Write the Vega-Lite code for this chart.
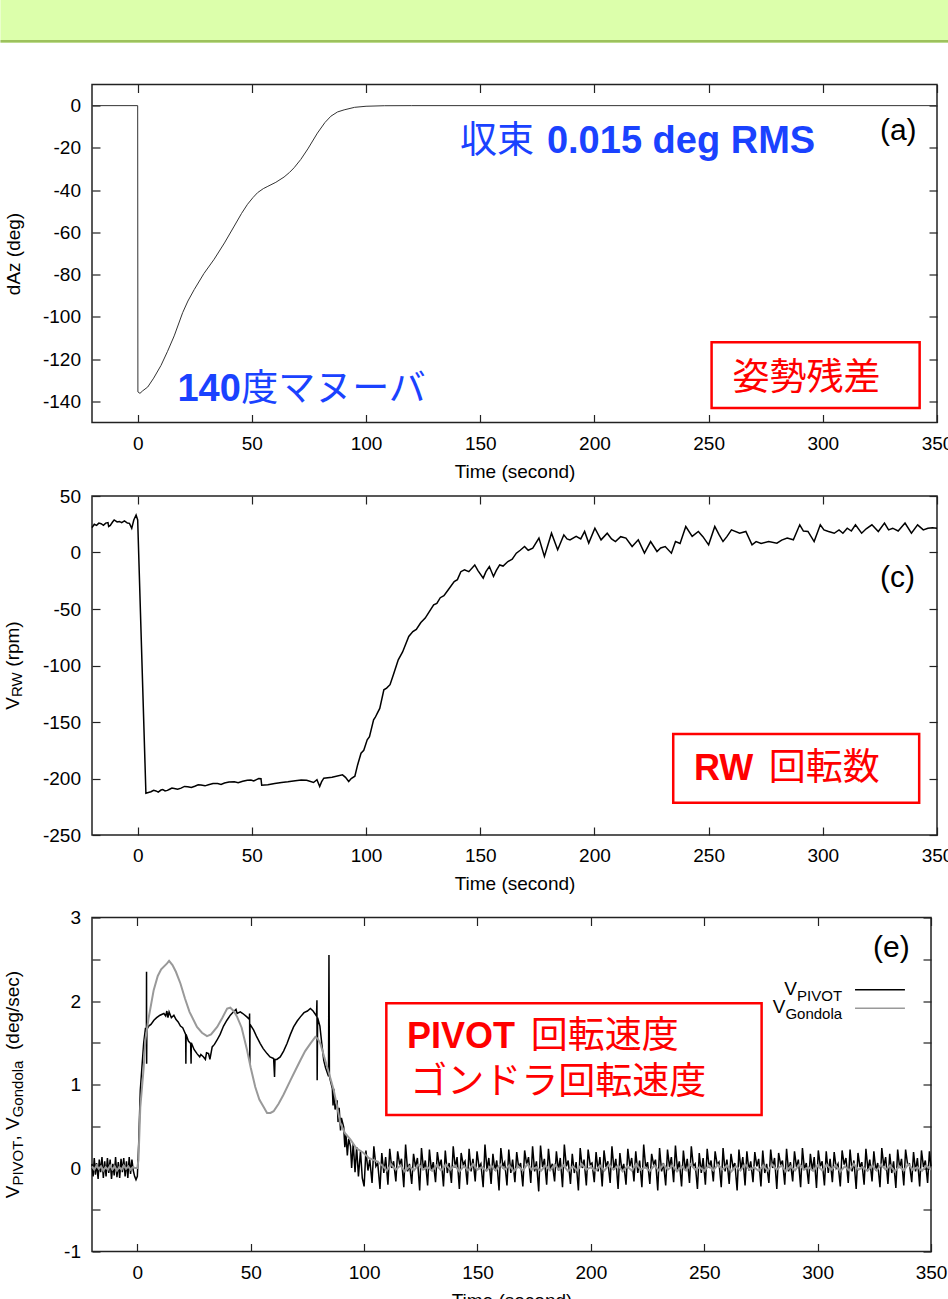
{
"$schema": "https://vega.github.io/schema/vega-lite/v6.json",
"padding": 0,
"background": "white",
"config": {
  "view": {"stroke": null},
  "text": {"font": "Liberation Sans"},
  "axis": {"grid": false, "domain": false, "tickColor": "#222", "tickWidth": 1.2, "tickSize": -8, "labelFont": "Liberation Sans", "labelFontSize": 19, "labelColor": "#000", "titleFont": "Liberation Sans", "titleFontSize": 19, "titleFontWeight": "normal", "titleColor": "#000", "labelFlush": false, "labelPadding": 19.5}
},
"datasets": {
"az": [{"t":-20,"v":0},{"t":0,"v":0},{"t":0.1,"v":-135.5},{"t":1,"v":-136.2},{"t":2.2,"v":-135},{"t":4.4,"v":-133.2},{"t":7,"v":-129},{"t":10.2,"v":-123},{"t":13,"v":-116.5},{"t":16,"v":-109},{"t":19.7,"v":-98},{"t":22,"v":-92.5},{"t":24.8,"v":-87},{"t":29,"v":-79.5},{"t":33.5,"v":-72.7},{"t":38,"v":-65},{"t":42.3,"v":-57},{"t":45.5,"v":-51},{"t":48.1,"v":-46.7},{"t":50.5,"v":-43.5},{"t":52.5,"v":-41.2},{"t":55,"v":-39.3},{"t":57,"v":-38.2},{"t":60.5,"v":-36.3},{"t":64.1,"v":-33.8},{"t":66.5,"v":-31.6},{"t":68.5,"v":-29.4},{"t":71.4,"v":-25.5},{"t":74.5,"v":-20.5},{"t":78.7,"v":-13},{"t":82,"v":-8},{"t":84.6,"v":-5},{"t":87.5,"v":-3},{"t":90.4,"v":-2},{"t":95,"v":-0.8},{"t":100,"v":-0.3},{"t":108,"v":-0.05},{"t":120,"v":0},{"t":350,"v":0}],
"rw": [{"t":-20,"v":22},{"t":-19,"v":25},{"t":-18,"v":24},{"t":-17,"v":26},{"t":-16,"v":25.5},{"t":-15,"v":24},{"t":-14,"v":26},{"t":-13,"v":26.5},{"t":-12.7,"v":23},{"t":-12,"v":24},{"t":-11,"v":27},{"t":-10.3,"v":28.8},{"t":-9,"v":27},{"t":-8,"v":27.5},{"t":-7,"v":26.5},{"t":-5.8,"v":28},{"t":-4.5,"v":26},{"t":-3.6,"v":25.8},{"t":-2.6,"v":21.4},{"t":-1.7,"v":28.8},{"t":-0.7,"v":33.2},{"t":0,"v":28.8},{"t":3.6,"v":-213},{"t":5.8,"v":-211.7},{"t":7,"v":-210.5},{"t":8,"v":-211},{"t":9,"v":-212},{"t":10.2,"v":-210.2},{"t":11,"v":-209.8},{"t":12,"v":-211},{"t":13,"v":-210.5},{"t":14,"v":-209.5},{"t":15,"v":-208.5},{"t":16,"v":-208.8},{"t":17.5,"v":-209.5},{"t":19,"v":-208.5},{"t":20.5,"v":-207},{"t":21.9,"v":-207.3},{"t":23.5,"v":-208},{"t":25,"v":-206.8},{"t":26.5,"v":-205.5},{"t":27.7,"v":-205.8},{"t":29.5,"v":-206.5},{"t":31,"v":-205.6},{"t":33,"v":-204.5},{"t":35,"v":-204.4},{"t":36.5,"v":-205.2},{"t":38,"v":-204},{"t":40,"v":-203.2},{"t":42.3,"v":-202.9},{"t":44,"v":-203.8},{"t":46,"v":-202.5},{"t":48,"v":-201.5},{"t":49.6,"v":-201.3},{"t":50.8,"v":-202.2},{"t":52,"v":-201},{"t":53,"v":-200},{"t":54,"v":-200.2},{"t":54.3,"v":-206},{"t":57,"v":-205.5},{"t":60,"v":-204.4},{"t":63,"v":-203.5},{"t":65.8,"v":-202.9},{"t":69,"v":-202},{"t":71.6,"v":-201.3},{"t":74,"v":-201.5},{"t":77,"v":-203.5},{"t":78.5,"v":-201},{"t":79.7,"v":-207},{"t":80.5,"v":-203},{"t":81.5,"v":-199.7},{"t":85.1,"v":-198.8},{"t":89.7,"v":-196.8},{"t":91,"v":-199},{"t":92.4,"v":-202.7},{"t":93.5,"v":-200},{"t":95.1,"v":-198},{"t":96.3,"v":-188},{"t":97.8,"v":-177.6},{"t":99,"v":-175},{"t":100.5,"v":-165.8},{"t":101.5,"v":-163},{"t":103.3,"v":-148},{"t":104,"v":-146},{"t":105,"v":-142},{"t":106,"v":-138},{"t":107.8,"v":-121.5},{"t":109,"v":-120},{"t":110.5,"v":-117},{"t":112,"v":-108},{"t":114.1,"v":-95},{"t":116,"v":-88},{"t":118.7,"v":-74.3},{"t":120.5,"v":-70},{"t":122,"v":-68},{"t":124,"v":-62},{"t":125.9,"v":-58},{"t":127.5,"v":-53},{"t":129.6,"v":-46.3},{"t":131,"v":-45},{"t":132.5,"v":-40},{"t":134.1,"v":-38.3},{"t":136,"v":-33},{"t":138.6,"v":-25.7},{"t":140,"v":-24},{"t":141.5,"v":-17},{"t":143.1,"v":-15.3},{"t":145,"v":-17},{"t":147.6,"v":-11},{"t":149,"v":-16},{"t":151.3,"v":-22.7},{"t":152.5,"v":-17},{"t":154,"v":-12.4},{"t":155.8,"v":-21.2},{"t":157,"v":-16},{"t":158.5,"v":-11},{"t":160,"v":-12},{"t":162.1,"v":-8},{"t":164,"v":-6},{"t":165.8,"v":-0.6},{"t":167.5,"v":2},{"t":169.4,"v":5.3},{"t":171,"v":2},{"t":173,"v":3.8},{"t":175.7,"v":12.7},{"t":178.1,"v":-3.5},{"t":181.2,"v":17.1},{"t":183.9,"v":2.4},{"t":186.6,"v":15.6},{"t":188,"v":12},{"t":189.3,"v":11.2},{"t":192,"v":14.2},{"t":194,"v":12},{"t":195.7,"v":18.6},{"t":197.5,"v":8.3},{"t":200.2,"v":21.5},{"t":202.9,"v":11.2},{"t":205.6,"v":17.1},{"t":207.5,"v":12},{"t":209.2,"v":9.7},{"t":211.5,"v":14},{"t":213.8,"v":12.7},{"t":216.5,"v":5.3},{"t":219.2,"v":11.2},{"t":221.9,"v":-0.6},{"t":224.6,"v":9.7},{"t":227.4,"v":0.9},{"t":229,"v":4},{"t":231,"v":5.3},{"t":233.7,"v":-0.6},{"t":235.5,"v":9.7},{"t":237.5,"v":8},{"t":240,"v":23},{"t":242.8,"v":14.2},{"t":245.5,"v":18.6},{"t":247.5,"v":14},{"t":250,"v":6.8},{"t":252.7,"v":23},{"t":254.5,"v":16},{"t":256.3,"v":9.7},{"t":258,"v":14},{"t":260,"v":20},{"t":263.6,"v":17},{"t":266.3,"v":18.6},{"t":269,"v":6.8},{"t":270.8,"v":9.7},{"t":273,"v":8},{"t":276.3,"v":9.7},{"t":279.9,"v":8.3},{"t":282,"v":11},{"t":284.4,"v":12.7},{"t":287.1,"v":11.2},{"t":289.9,"v":24.5},{"t":291.5,"v":19},{"t":293.5,"v":18.6},{"t":296.2,"v":9.7},{"t":298.9,"v":24.5},{"t":300.5,"v":20},{"t":302.5,"v":18.6},{"t":305,"v":17},{"t":307.1,"v":20},{"t":308.8,"v":17},{"t":310.7,"v":21.5},{"t":312.5,"v":19},{"t":314.3,"v":24.5},{"t":317,"v":17.1},{"t":319,"v":21},{"t":321.5,"v":24.5},{"t":324.3,"v":18.6},{"t":327,"v":26},{"t":328.8,"v":20},{"t":330.6,"v":21.5},{"t":333,"v":19},{"t":336,"v":26},{"t":338.8,"v":17.1},{"t":341.5,"v":24.5},{"t":344,"v":20},{"t":346,"v":21.5},{"t":348,"v":22},{"t":350,"v":21.5}],
"piv": [{"t":-20,"v":0.05},{"t":-19.5,"v":-0.1},{"t":-19,"v":0.12},{"t":-18.5,"v":-0.08},{"t":-18,"v":0.06},{"t":-17.3,"v":-0.13},{"t":-16.8,"v":0.1},{"t":-16.2,"v":-0.05},{"t":-15.6,"v":0.13},{"t":-15,"v":-0.12},{"t":-14.4,"v":0.08},{"t":-13.8,"v":-0.1},{"t":-13.2,"v":0.12},{"t":-12.6,"v":-0.06},{"t":-12,"v":0.1},{"t":-11.4,"v":-0.13},{"t":-10.8,"v":0.05},{"t":-10.2,"v":-0.09},{"t":-9.6,"v":0.13},{"t":-9,"v":-0.11},{"t":-8.4,"v":0.07},{"t":-7.8,"v":-0.12},{"t":-7.2,"v":0.11},{"t":-6.6,"v":-0.05},{"t":-6,"v":0.12},{"t":-5.4,"v":-0.1},{"t":-4.8,"v":0.08},{"t":-4.2,"v":-0.12},{"t":-3.6,"v":0.13},{"t":-3,"v":-0.07},{"t":-2.4,"v":0.1},{"t":-1.8,"v":-0.03},{"t":-1.2,"v":-0.1},{"t":-0.6,"v":-0.14},{"t":0,"v":-0.1},{"t":0.6,"v":0.3},{"t":1.3,"v":0.93},{"t":2,"v":1.2},{"t":2.8,"v":1.5},{"t":3.6,"v":1.68},{"t":4,"v":1.65},{"t":4.05,"v":2.35},{"t":4.1,"v":1.25},{"t":4.2,"v":1.66},{"t":5,"v":1.7},{"t":6,"v":1.72},{"t":7.3,"v":1.77},{"t":8.5,"v":1.8},{"t":10,"v":1.83},{"t":11.7,"v":1.85},{"t":12.5,"v":1.82},{"t":13,"v":1.88},{"t":13.5,"v":1.8},{"t":14,"v":1.87},{"t":15,"v":1.8},{"t":16.1,"v":1.83},{"t":17,"v":1.78},{"t":18,"v":1.75},{"t":19,"v":1.7},{"t":20,"v":1.68},{"t":20.5,"v":1.65},{"t":21.3,"v":1.6},{"t":21.4,"v":1.25},{"t":21.5,"v":1.6},{"t":22.5,"v":1.52},{"t":23.5,"v":1.49},{"t":23.7,"v":1.25},{"t":23.8,"v":1.5},{"t":25,"v":1.42},{"t":26.3,"v":1.37},{"t":27.5,"v":1.33},{"t":28,"v":1.36},{"t":29.2,"v":1.33},{"t":30,"v":1.3},{"t":30.5,"v":1.38},{"t":31.4,"v":1.37},{"t":32,"v":1.3},{"t":33,"v":1.45},{"t":34,"v":1.48},{"t":35.1,"v":1.53},{"t":36.5,"v":1.6},{"t":38,"v":1.7},{"t":39.5,"v":1.77},{"t":41,"v":1.83},{"t":42.4,"v":1.87},{"t":43.5,"v":1.9},{"t":44,"v":1.85},{"t":45.4,"v":1.87},{"t":46.5,"v":1.85},{"t":48.3,"v":1.81},{"t":49.4,"v":1.78},{"t":49.5,"v":1.85},{"t":49.6,"v":1.25},{"t":49.7,"v":1.72},{"t":51.3,"v":1.65},{"t":52.5,"v":1.58},{"t":54.2,"v":1.49},{"t":55.5,"v":1.43},{"t":57.2,"v":1.37},{"t":58.5,"v":1.33},{"t":60.1,"v":1.31},{"t":60.5,"v":1.09},{"t":60.7,"v":1.3},{"t":61.5,"v":1.3},{"t":63,"v":1.33},{"t":64.5,"v":1.4},{"t":66,"v":1.49},{"t":67.5,"v":1.6},{"t":68.9,"v":1.69},{"t":70.5,"v":1.76},{"t":71.9,"v":1.81},{"t":73.5,"v":1.86},{"t":75,"v":1.88},{"t":76.3,"v":1.91},{"t":77.5,"v":1.88},{"t":78.5,"v":1.84},{"t":79,"v":1.82},{"t":79.2,"v":2.01},{"t":79.3,"v":1.05},{"t":79.5,"v":1.8},{"t":80.5,"v":1.7},{"t":81.3,"v":1.5},{"t":82.2,"v":1.29},{"t":83,"v":1.2},{"t":84.3,"v":1.1},{"t":84.5,"v":2.55},{"t":84.7,"v":1.1},{"t":85.1,"v":1.05},{"t":86,"v":0.95},{"t":86.3,"v":0.75},{"t":86.6,"v":0.95},{"t":87.2,"v":0.7},{"t":88.1,"v":0.81},{"t":88.5,"v":0.55},{"t":89,"v":0.72},{"t":89.6,"v":0.45},{"t":90,"v":0.6},{"t":91,"v":0.49},{"t":91.5,"v":0.25},{"t":92,"v":0.4},{"t":92.6,"v":0.15},{"t":93.2,"v":0.35},{"t":94,"v":0.26},{"t":94.5,"v":0},{"t":95.2,"v":0.3},{"t":96,"v":-0.05},{"t":96.7,"v":0.25},{"t":97.5,"v":-0.1},{"t":98.4,"v":0.2},{"t":99.2,"v":-0.12},
{"t":100,"v":-0.22},{"t":100.8,"v":0.21},{"t":101.7,"v":-0.03},{"t":102.5,"v":0.1},
{"t":103.5,"v":-0.18},{"t":104.3,"v":0.26},{"t":105.2,"v":0.02},{"t":106,"v":0.06},
{"t":107,"v":-0.25},{"t":107.8,"v":0.18},{"t":108.7,"v":-0.06},{"t":109.5,"v":0.13},
{"t":110.5,"v":-0.2},{"t":111.3,"v":0.23},{"t":112.2,"v":0},{"t":113,"v":0.08},
{"t":114,"v":-0.16},{"t":114.8,"v":0.2},{"t":115.7,"v":0.04},{"t":116.5,"v":0.11},
{"t":117.5,"v":-0.23},{"t":118.3,"v":0.28},{"t":119.2,"v":-0.04},{"t":120,"v":0.05},
{"t":121,"v":-0.19},{"t":121.8,"v":0.17},{"t":122.7,"v":0.01},{"t":123.5,"v":0.12},
{"t":124.5,"v":-0.27},{"t":125.3,"v":0.24},{"t":126.2,"v":-0.02},{"t":127,"v":0.09},
{"t":128,"v":-0.21},{"t":128.8,"v":0.22},{"t":129.7,"v":-0.03},{"t":130.5,"v":0.07},
{"t":131.5,"v":-0.17},{"t":132.3,"v":0.19},{"t":133.2,"v":0.02},{"t":134,"v":0.1},
{"t":135,"v":-0.22},{"t":135.8,"v":0.21},{"t":136.7,"v":-0.06},{"t":137.5,"v":0.06},
{"t":138.5,"v":-0.18},{"t":139.3,"v":0.26},{"t":140.2,"v":0},{"t":141,"v":0.13},
{"t":142,"v":-0.25},{"t":142.8,"v":0.18},{"t":143.7,"v":0.04},{"t":144.5,"v":0.08},
{"t":145.5,"v":-0.2},{"t":146.3,"v":0.23},{"t":147.2,"v":-0.04},{"t":148,"v":0.11},
{"t":149,"v":-0.16},{"t":149.8,"v":0.2},{"t":150.7,"v":0.01},{"t":151.5,"v":0.05},
{"t":152.5,"v":-0.23},{"t":153.3,"v":0.28},{"t":154.2,"v":-0.02},{"t":155,"v":0.12},
{"t":156,"v":-0.19},{"t":156.8,"v":0.17},{"t":157.7,"v":-0.03},{"t":158.5,"v":0.09},
{"t":159.5,"v":-0.27},{"t":160.3,"v":0.24},{"t":161.2,"v":0.02},{"t":162,"v":0.07},
{"t":163,"v":-0.21},{"t":163.8,"v":0.22},{"t":164.7,"v":-0.06},{"t":165.5,"v":0.1},
{"t":166.5,"v":-0.17},{"t":167.3,"v":0.19},{"t":168.2,"v":0},{"t":169,"v":0.06},
{"t":170,"v":-0.22},{"t":170.8,"v":0.21},{"t":171.7,"v":0.04},{"t":172.5,"v":0.13},
{"t":173.5,"v":-0.18},{"t":174.3,"v":0.26},{"t":175.2,"v":-0.04},{"t":176,"v":0.08},
{"t":177,"v":-0.28},{"t":177.8,"v":0.27},{"t":178.7,"v":0.01},{"t":179.5,"v":0.11},
{"t":180.5,"v":-0.2},{"t":181.3,"v":0.23},{"t":182.2,"v":-0.02},{"t":183,"v":0.05},
{"t":184,"v":-0.16},{"t":184.8,"v":0.2},{"t":185.7,"v":-0.03},{"t":186.5,"v":0.12},
{"t":187.5,"v":-0.23},{"t":188.3,"v":0.28},{"t":189.2,"v":0.02},{"t":190,"v":0.09},
{"t":191,"v":-0.19},{"t":191.8,"v":0.17},{"t":192.7,"v":-0.06},{"t":193.5,"v":0.07},
{"t":194.5,"v":-0.27},{"t":195.3,"v":0.24},{"t":196.2,"v":0},{"t":197,"v":0.1},
{"t":198,"v":-0.21},{"t":198.8,"v":0.22},{"t":199.7,"v":0.04},{"t":200.5,"v":0.06},
{"t":201.5,"v":-0.17},{"t":202.3,"v":0.19},{"t":203.2,"v":-0.04},{"t":204,"v":0.13},
{"t":205,"v":-0.22},{"t":205.8,"v":0.21},{"t":206.7,"v":0.01},{"t":207.5,"v":0.08},
{"t":208.5,"v":-0.18},{"t":209.3,"v":0.26},{"t":210.2,"v":-0.02},{"t":211,"v":0.11},
{"t":212,"v":-0.25},{"t":212.8,"v":0.18},{"t":213.7,"v":-0.03},{"t":214.5,"v":0.05},
{"t":215.5,"v":-0.2},{"t":216.3,"v":0.23},{"t":217.2,"v":0.02},{"t":218,"v":0.12},
{"t":219,"v":-0.16},{"t":219.8,"v":0.2},{"t":220.7,"v":-0.06},{"t":221.5,"v":0.09},
{"t":222.5,"v":-0.23},{"t":223.3,"v":0.28},{"t":224.2,"v":0},{"t":225,"v":0.07},
{"t":226,"v":-0.19},{"t":226.8,"v":0.17},{"t":227.7,"v":0.04},{"t":228.5,"v":0.1},
{"t":229.5,"v":-0.27},{"t":230.3,"v":0.24},{"t":231.2,"v":-0.04},{"t":232,"v":0.06},
{"t":233,"v":-0.21},{"t":233.8,"v":0.22},{"t":234.7,"v":0.01},{"t":235.5,"v":0.13},
{"t":236.5,"v":-0.17},{"t":237.3,"v":0.27},{"t":238.2,"v":-0.02},{"t":239,"v":0.08},
{"t":240,"v":-0.22},{"t":240.8,"v":0.21},{"t":241.7,"v":-0.03},{"t":242.5,"v":0.11},
{"t":243.5,"v":-0.18},{"t":244.3,"v":0.26},{"t":245.2,"v":0.02},{"t":246,"v":0.05},
{"t":247,"v":-0.25},{"t":247.8,"v":0.18},{"t":248.7,"v":-0.06},{"t":249.5,"v":0.12},
{"t":250.5,"v":-0.2},{"t":251.3,"v":0.23},{"t":252.2,"v":0},{"t":253,"v":0.09},
{"t":254,"v":-0.16},{"t":254.8,"v":0.2},{"t":255.7,"v":0.04},{"t":256.5,"v":0.07},
{"t":257.5,"v":-0.23},{"t":258.3,"v":0.24},{"t":259.2,"v":-0.04},{"t":260,"v":0.1},
{"t":261,"v":-0.19},{"t":261.8,"v":0.17},{"t":262.7,"v":0.01},{"t":263.5,"v":0.06},
{"t":264.5,"v":-0.27},{"t":265.3,"v":0.22},{"t":266.2,"v":-0.02},{"t":267,"v":0.13},
{"t":268,"v":-0.21},{"t":268.8,"v":0.2},{"t":269.7,"v":-0.03},{"t":270.5,"v":0.08},
{"t":271.5,"v":-0.17},{"t":272.3,"v":0.19},{"t":273.2,"v":0.02},{"t":274,"v":0.11},
{"t":275,"v":-0.22},{"t":275.8,"v":0.21},{"t":276.7,"v":-0.06},{"t":277.5,"v":0.05},
{"t":278.5,"v":-0.18},{"t":279.3,"v":0.22},{"t":280.2,"v":0},{"t":281,"v":0.12},
{"t":282,"v":-0.25},{"t":282.8,"v":0.18},{"t":283.7,"v":0.04},{"t":284.5,"v":0.09},
{"t":285.5,"v":-0.2},{"t":286.3,"v":0.23},{"t":287.2,"v":-0.04},{"t":288,"v":0.07},
{"t":289,"v":-0.16},{"t":289.8,"v":0.2},{"t":290.7,"v":0.01},{"t":291.5,"v":0.1},
{"t":292.5,"v":-0.23},{"t":293.3,"v":0.24},{"t":294.2,"v":-0.02},{"t":295,"v":0.06},
{"t":296,"v":-0.19},{"t":296.8,"v":0.17},{"t":297.7,"v":-0.03},{"t":298.5,"v":0.13},
{"t":299.5,"v":-0.24},{"t":300.3,"v":0.21},{"t":301.2,"v":0.02},{"t":302,"v":0.08},
{"t":303,"v":-0.21},{"t":303.8,"v":0.2},{"t":304.7,"v":-0.06},{"t":305.5,"v":0.11},
{"t":306.5,"v":-0.17},{"t":307.3,"v":0.19},{"t":308.2,"v":0},{"t":309,"v":0.05},
{"t":310,"v":-0.22},{"t":310.8,"v":0.21},{"t":311.7,"v":0.04},{"t":312.5,"v":0.12},
{"t":313.5,"v":-0.18},{"t":314.3,"v":0.22},{"t":315.2,"v":-0.04},{"t":316,"v":0.09},
{"t":317,"v":-0.25},{"t":317.8,"v":0.18},{"t":318.7,"v":0.01},{"t":319.5,"v":0.07},
{"t":320.5,"v":-0.2},{"t":321.3,"v":0.23},{"t":322.2,"v":-0.02},{"t":323,"v":0.1},
{"t":324,"v":-0.16},{"t":324.8,"v":0.2},{"t":325.7,"v":-0.03},{"t":326.5,"v":0.06},
{"t":327.5,"v":-0.23},{"t":328.3,"v":0.24},{"t":329.2,"v":0.02},{"t":330,"v":0.13},
{"t":331,"v":-0.19},{"t":331.8,"v":0.17},{"t":332.7,"v":-0.06},{"t":333.5,"v":0.08},
{"t":334.5,"v":-0.24},{"t":335.3,"v":0.22},{"t":336.2,"v":0},{"t":337,"v":0.11},
{"t":338,"v":-0.21},{"t":338.8,"v":0.22},{"t":339.7,"v":0.04},{"t":340.5,"v":0.05},
{"t":341.5,"v":-0.17},{"t":342.3,"v":0.19},{"t":343.2,"v":-0.04},{"t":344,"v":0.12},
{"t":345,"v":-0.22},{"t":345.8,"v":0.21},{"t":346.7,"v":0.01},{"t":347.5,"v":0.09},
{"t":348.5,"v":-0.18},{"t":349.3,"v":0.2},{"t":350,"v":0.02}],
"gon": [{"t":-20,"v":0.02},{"t":-19,"v":-0.02},{"t":-18,"v":0.03},{"t":-17,"v":-0.01},{"t":-16,"v":0.02},{"t":-15,"v":-0.03},{"t":-14,"v":0.01},{"t":-13,"v":-0.02},{"t":-12,"v":0.03},{"t":-11,"v":-0.02},{"t":-10,"v":0.02},{"t":-9,"v":-0.03},{"t":-8,"v":0.01},{"t":-7,"v":-0.02},{"t":-6,"v":0.03},{"t":-5,"v":-0.01},{"t":-4,"v":0.02},{"t":-3,"v":-0.02},{"t":-2,"v":0.01},{"t":-1,"v":0},{"t":0,"v":0},{"t":0.5,"v":0.1},{"t":1.3,"v":0.73},{"t":2.8,"v":1.2},{"t":3.5,"v":1.53},{"t":5,"v":1.8},{"t":7.2,"v":2.13},{"t":9,"v":2.3},{"t":10.5,"v":2.38},{"t":13.1,"v":2.45},{"t":14,"v":2.48},{"t":15.5,"v":2.43},{"t":17,"v":2.35},{"t":19,"v":2.21},{"t":21,"v":2.03},{"t":23,"v":1.87},{"t":26.3,"v":1.69},{"t":28.5,"v":1.62},{"t":30.7,"v":1.58},{"t":32.5,"v":1.6},{"t":35.2,"v":1.69},{"t":37.5,"v":1.8},{"t":39.6,"v":1.91},{"t":41,"v":1.92},{"t":42.5,"v":1.88},{"t":44,"v":1.81},{"t":46,"v":1.68},{"t":48.4,"v":1.41},{"t":50,"v":1.2},{"t":52,"v":0.97},{"t":53.8,"v":0.82},{"t":55.7,"v":0.73},{"t":57.2,"v":0.66},{"t":58.7,"v":0.66},{"t":60.1,"v":0.68},{"t":62.3,"v":0.77},{"t":64.5,"v":0.88},{"t":67.5,"v":1.05},{"t":69.7,"v":1.17},{"t":71.9,"v":1.29},{"t":74,"v":1.4},{"t":76.3,"v":1.49},{"t":78.5,"v":1.57},{"t":79.5,"v":1.55},{"t":80.7,"v":1.49},{"t":82.2,"v":1.35},{"t":83.7,"v":1.21},{"t":85.2,"v":1.07},{"t":86.6,"v":0.93},{"t":88,"v":0.75},{"t":89.5,"v":0.54},{"t":91.5,"v":0.42},{"t":94,"v":0.34},{"t":96.5,"v":0.24},{"t":99.8,"v":0.18},{"t":102,"v":0.12},{"t":105.7,"v":0.08},
{"t":108,"v":0.03},{"t":110,"v":-0.03},{"t":112,"v":0.04},{"t":114,"v":-0.02},{"t":116,"v":0.03},{"t":118,"v":-0.04},{"t":120,"v":0.02},{"t":122,"v":-0.03},{"t":124,"v":0.045},{"t":126,"v":-0.02},{"t":128,"v":0.01},{"t":130,"v":-0.035},
{"t":132,"v":0.03},{"t":134,"v":-0.03},{"t":136,"v":0.04},{"t":138,"v":-0.02},{"t":140,"v":0.03},{"t":142,"v":-0.04},{"t":144,"v":0.02},{"t":146,"v":-0.03},{"t":148,"v":0.045},{"t":150,"v":-0.02},{"t":152,"v":0.01},{"t":154,"v":-0.035},
{"t":156,"v":0.03},{"t":158,"v":-0.03},{"t":160,"v":0.04},{"t":162,"v":-0.02},{"t":164,"v":0.03},{"t":166,"v":-0.04},{"t":168,"v":0.02},{"t":170,"v":-0.03},{"t":172,"v":0.045},{"t":174,"v":-0.02},{"t":176,"v":0.01},{"t":178,"v":-0.035},
{"t":180,"v":0.03},{"t":182,"v":-0.03},{"t":184,"v":0.04},{"t":186,"v":-0.02},{"t":188,"v":0.03},{"t":190,"v":-0.04},{"t":192,"v":0.02},{"t":194,"v":-0.03},{"t":196,"v":0.045},{"t":198,"v":-0.02},{"t":200,"v":0.01},{"t":202,"v":-0.035},
{"t":204,"v":0.03},{"t":206,"v":-0.03},{"t":208,"v":0.04},{"t":210,"v":-0.02},{"t":212,"v":0.03},{"t":214,"v":-0.04},{"t":216,"v":0.02},{"t":218,"v":-0.03},{"t":220,"v":0.045},{"t":222,"v":-0.02},{"t":224,"v":0.01},{"t":226,"v":-0.035},
{"t":228,"v":0.03},{"t":230,"v":-0.03},{"t":232,"v":0.04},{"t":234,"v":-0.02},{"t":236,"v":0.03},{"t":238,"v":-0.04},{"t":240,"v":0.02},{"t":242,"v":-0.03},{"t":244,"v":0.045},{"t":246,"v":-0.02},{"t":248,"v":0.01},{"t":250,"v":-0.035},
{"t":252,"v":0.03},{"t":254,"v":-0.03},{"t":256,"v":0.04},{"t":258,"v":-0.02},{"t":260,"v":0.03},{"t":262,"v":-0.04},{"t":264,"v":0.02},{"t":266,"v":-0.03},{"t":268,"v":0.045},{"t":270,"v":-0.02},{"t":272,"v":0.01},{"t":274,"v":-0.035},
{"t":276,"v":0.03},{"t":278,"v":-0.03},{"t":280,"v":0.04},{"t":282,"v":-0.02},{"t":284,"v":0.03},{"t":286,"v":-0.04},{"t":288,"v":0.02},{"t":290,"v":-0.03},{"t":292,"v":0.045},{"t":294,"v":-0.02},{"t":296,"v":0.01},{"t":298,"v":-0.035},
{"t":300,"v":0.03},{"t":302,"v":-0.03},{"t":304,"v":0.04},{"t":306,"v":-0.02},{"t":308,"v":0.03},{"t":310,"v":-0.04},{"t":312,"v":0.02},{"t":314,"v":-0.03},{"t":316,"v":0.045},{"t":318,"v":-0.02},{"t":320,"v":0.01},{"t":322,"v":-0.035},
{"t":324,"v":0.03},{"t":326,"v":-0.03},{"t":328,"v":0.04},{"t":330,"v":-0.02},{"t":332,"v":0.03},{"t":334,"v":-0.04},{"t":336,"v":0.02},{"t":338,"v":-0.03},{"t":340,"v":0.045},{"t":342,"v":-0.02},{"t":344,"v":0.01},{"t":346,"v":-0.035},{"t":348,"v":0.03},{"t":350,"v":-0.02}]
},
"columns": 1, "align": "none", "spacing": 39.5,
"concat": [
{
  "width": 856.4, "height": 43,
  "data": {"values": [{}]},
  "layer": [
    {"mark": {"type": "rect", "color": "#dcffab"},
     "encoding": {"x": {"datum": 0, "type": "quantitative", "scale": {"domain": [0, 1], "range": [-91.6, 856.4]}, "axis": null}, "x2": {"datum": 1},
                  "y": {"datum": 0.07, "type": "quantitative", "scale": {"domain": [0, 1]}, "axis": null}, "y2": {"datum": 1}}},
    {"mark": {"type": "rect", "color": "#9dc15d"},
     "encoding": {"x": {"datum": 0, "type": "quantitative", "axis": null}, "x2": {"datum": 1},
                  "y": {"datum": 0.023, "type": "quantitative", "axis": null}, "y2": {"datum": 0.07}}},
    {"mark": {"type": "rect", "color": "#bddc8e"},
     "encoding": {"x": {"datum": 0, "type": "quantitative", "axis": null}, "x2": {"datum": 1},
                  "y": {"datum": 0, "type": "quantitative", "axis": null}, "y2": {"datum": 0.023}}}
  ]
},
{
  "columns": 1, "align": "none", "spacing": 13,
  "concat": [
  {
    "columns": 1, "align": "none", "spacing": 3.5,
    "concat": [
    {
      "width": 845, "height": 338,
      "view": {"stroke": "#222", "strokeWidth": 1.5},
      "resolve": {"axis": {"x": "independent", "y": "independent"}},
      "layer": [
        {"data": {"name": "az"}, "mark": {"type": "line", "color": "#333", "strokeWidth": 1},
         "encoding": {
           "x": {"field": "t", "type": "quantitative", "scale": {"domain": [-20, 350], "nice": false, "zero": false},
                 "axis": {"orient": "bottom", "values": [0,50,100,150,200,250,300,350], "title": "Time (second)", "titlePadding": 9}},
           "y": {"field": "v", "type": "quantitative", "scale": {"domain": [-150, 10], "nice": false, "zero": false},
                 "axis": {"orient": "left", "values": [-140,-120,-100,-80,-60,-40,-20,0], "labelExpr": "replace(datum.label, '−', '-')", "title": "dAz (deg)", "titlePadding": 21, "minExtent": 48, "maxExtent": 48}}}},
        {"data": {"name": "az"}, "mark": {"type": "line", "opacity": 0},
         "encoding": {
           "x": {"field": "t", "type": "quantitative", "axis": {"orient": "top", "values": [0,50,100,150,200,250,300,350], "labels": false, "title": null}},
           "y": {"field": "v", "type": "quantitative", "axis": {"orient": "right", "values": [-140,-120,-100,-80,-60,-40,-20,0], "labels": false, "title": null}}}},
        {"data": {"values": [{}]}, "mark": {"type": "text", "text": "(a)", "align": "left", "baseline": "alphabetic", "fontSize": 30, "color": "#000"},
         "encoding": {"x": {"datum": 325, "type": "quantitative", "axis": null}, "y": {"datum": -16.5, "type": "quantitative", "axis": null}}},
        {"data": {"values": [{}]}, "mark": {"type": "text", "text": "収束", "align": "left", "baseline": "alphabetic", "font": "Noto Sans CJK JP", "fontSize": 37, "color": "#1a42ff"},
         "encoding": {"x": {"datum": 141.1, "type": "quantitative", "axis": null}, "y": {"datum": -22.2, "type": "quantitative", "axis": null}}},
        {"data": {"values": [{}]}, "mark": {"type": "text", "text": "0.015 deg RMS", "align": "left", "baseline": "alphabetic", "fontSize": 38, "fontWeight": "bold", "color": "#1a42ff"},
         "encoding": {"x": {"datum": 179.2, "type": "quantitative", "axis": null}, "y": {"datum": -22.2, "type": "quantitative", "axis": null}}},
        {"data": {"values": [{}]}, "mark": {"type": "text", "text": "140", "align": "left", "baseline": "alphabetic", "fontSize": 38, "fontWeight": "bold", "color": "#1a42ff"},
         "encoding": {"x": {"datum": 17.4, "type": "quantitative", "axis": null}, "y": {"datum": -139.6, "type": "quantitative", "axis": null}}},
        {"data": {"values": [{}]}, "mark": {"type": "text", "text": "度マヌーバ", "align": "left", "baseline": "alphabetic", "font": "Noto Sans CJK JP", "fontSize": 37, "color": "#1a42ff"},
         "encoding": {"x": {"datum": 45.3, "type": "quantitative", "axis": null}, "y": {"datum": -139.6, "type": "quantitative", "axis": null}}},
        {"data": {"values": [{}]}, "mark": {"type": "rect", "fill": "transparent", "stroke": "#ff0000", "strokeWidth": 2.5},
         "encoding": {"x": {"datum": 251.3, "type": "quantitative", "axis": null}, "x2": {"datum": 342.4}, "y": {"datum": -112, "type": "quantitative", "axis": null}, "y2": {"datum": -143.1}}},
        {"data": {"values": [{}]}, "mark": {"type": "text", "text": "姿勢残差", "align": "left", "baseline": "alphabetic", "font": "Noto Sans CJK JP", "fontSize": 37, "color": "#ff0000"},
         "encoding": {"x": {"datum": 260.5, "type": "quantitative", "axis": null}, "y": {"datum": -134.4, "type": "quantitative", "axis": null}}},
        {"data": {"values": [{}]}, "mark": {"type": "text", "text": ".", "align": "left", "baseline": "middle", "fontSize": 8, "opacity": 0, "dx": -90.6},
         "encoding": {"x": {"datum": -20, "type": "quantitative", "axis": null}, "y": {"datum": -70, "type": "quantitative", "axis": null}}}
      ]
    },
    {
      "width": 845, "height": 339,
      "view": {"stroke": "#222", "strokeWidth": 1.5},
      "resolve": {"axis": {"x": "independent", "y": "independent"}},
      "layer": [
        {"data": {"name": "rw"}, "mark": {"type": "line", "color": "#000", "strokeWidth": 1.5},
         "encoding": {
           "x": {"field": "t", "type": "quantitative", "scale": {"domain": [-20, 350], "nice": false, "zero": false},
                 "axis": {"orient": "bottom", "values": [0,50,100,150,200,250,300,350], "title": "Time (second)", "titlePadding": 9}},
           "y": {"field": "v", "type": "quantitative", "scale": {"domain": [-250, 50], "nice": false, "zero": false},
                 "axis": {"orient": "left", "values": [-250,-200,-150,-100,-50,0,50], "labelExpr": "replace(datum.label, '−', '-')", "title": null}}}},
        {"data": {"name": "rw"}, "mark": {"type": "line", "opacity": 0},
         "encoding": {
           "x": {"field": "t", "type": "quantitative", "axis": {"orient": "top", "values": [0,50,100,150,200,250,300,350], "labels": false, "title": null}},
           "y": {"field": "v", "type": "quantitative", "axis": {"orient": "right", "values": [-250,-200,-150,-100,-50,0,50], "labels": false, "title": null}}}},
        {"data": {"values": [{}]}, "mark": {"type": "text", "text": "(c)", "align": "left", "baseline": "alphabetic", "fontSize": 30, "color": "#000"},
         "encoding": {"x": {"datum": 325, "type": "quantitative", "axis": null}, "y": {"datum": -30.5, "type": "quantitative", "axis": null}}},
        {"data": {"values": [{}]}, "mark": {"type": "rect", "fill": "transparent", "stroke": "#ff0000", "strokeWidth": 2.5},
         "encoding": {"x": {"datum": 234.5, "type": "quantitative", "axis": null}, "x2": {"datum": 342.2}, "y": {"datum": -160.6, "type": "quantitative", "axis": null}, "y2": {"datum": -221.4}}},
        {"data": {"values": [{}]}, "mark": {"type": "text", "text": "RW", "align": "left", "baseline": "alphabetic", "fontSize": 36, "fontWeight": "bold", "color": "#ff0000"},
         "encoding": {"x": {"datum": 243.6, "type": "quantitative", "axis": null}, "y": {"datum": -201.3, "type": "quantitative", "axis": null}}},
        {"data": {"values": [{}]}, "mark": {"type": "text", "text": "回転数", "align": "left", "baseline": "alphabetic", "font": "Noto Sans CJK JP", "fontSize": 37, "color": "#ff0000"},
         "encoding": {"x": {"datum": 276.3, "type": "quantitative", "axis": null}, "y": {"datum": -201.3, "type": "quantitative", "axis": null}}},
        {"data": {"values": [{}]}, "mark": {"type": "text", "text": "V", "angle": 270, "align": "left", "baseline": "alphabetic", "fontSize": 19, "dx": -44.2, "dy": -73.5, "color": "#000"},
         "encoding": {"x": {"datum": -20, "type": "quantitative", "axis": null}, "y": {"datum": -100, "type": "quantitative", "axis": null}}},
        {"data": {"values": [{}]}, "mark": {"type": "text", "text": "RW", "angle": 270, "align": "left", "baseline": "alphabetic", "fontSize": 15, "dx": -31.5, "dy": -70, "color": "#000"},
         "encoding": {"x": {"datum": -20, "type": "quantitative", "axis": null}, "y": {"datum": -100, "type": "quantitative", "axis": null}}},
        {"data": {"values": [{}]}, "mark": {"type": "text", "text": "(rpm)", "angle": 270, "align": "left", "baseline": "alphabetic", "fontSize": 19, "dx": -1.2, "dy": -73.5, "color": "#000"},
         "encoding": {"x": {"datum": -20, "type": "quantitative", "axis": null}, "y": {"datum": -100, "type": "quantitative", "axis": null}}},
        {"data": {"values": [{}]}, "mark": {"type": "text", "text": ".", "align": "left", "baseline": "middle", "fontSize": 8, "opacity": 0, "dx": -90.6},
         "encoding": {"x": {"datum": -20, "type": "quantitative", "axis": null}, "y": {"datum": -100, "type": "quantitative", "axis": null}}}
      ]
    }
    ]
  },
  {
    "width": 839, "height": 334,
    "view": {"stroke": "#222", "strokeWidth": 1.5},
    "resolve": {"axis": {"x": "independent", "y": "independent"}},
    "layer": [
      {"data": {"name": "piv"}, "mark": {"type": "line", "color": "#000", "strokeWidth": 1.5},
       "encoding": {
         "x": {"field": "t", "type": "quantitative", "scale": {"domain": [-20, 350], "nice": false, "zero": false},
               "axis": {"orient": "bottom", "values": [0,50,100,150,200,250,300,350], "title": "Time (second)", "titlePadding": 9}},
         "y": {"field": "v", "type": "quantitative", "scale": {"domain": [-1, 3], "nice": false, "zero": false},
               "axis": {"orient": "left", "values": [-1,-0.5,0,0.5,1,1.5,2,2.5,3], "labelExpr": "datum.value % 1 == 0 ? replace(format(datum.value, 'd'), '−', '-') : ''", "title": null}}}},
      {"data": {"name": "gon"}, "mark": {"type": "line", "color": "#999999", "strokeWidth": 2},
       "encoding": {
         "x": {"field": "t", "type": "quantitative", "axis": {"orient": "top", "values": [0,50,100,150,200,250,300,350], "labels": false, "title": null}},
         "y": {"field": "v", "type": "quantitative", "axis": {"orient": "right", "values": [-1,-0.5,0,0.5,1,1.5,2,2.5,3], "labels": false, "title": null}}}},
      {"data": {"values": [{}]}, "mark": {"type": "text", "text": "(e)", "align": "left", "baseline": "alphabetic", "fontSize": 30, "color": "#000"},
       "encoding": {"x": {"datum": 324.4, "type": "quantitative", "axis": null}, "y": {"datum": 2.527, "type": "quantitative", "axis": null}}},
      {"data": {"values": [{}]}, "mark": {"type": "rule", "color": "#000", "strokeWidth": 1.5},
       "encoding": {"x": {"datum": 316.5, "type": "quantitative", "axis": null}, "x2": {"datum": 338.5}, "y": {"datum": 2.135, "type": "quantitative", "axis": null}}},
      {"data": {"values": [{}]}, "mark": {"type": "rule", "color": "#999999", "strokeWidth": 1.5},
       "encoding": {"x": {"datum": 316.5, "type": "quantitative", "axis": null}, "x2": {"datum": 338.5}, "y": {"datum": 1.912, "type": "quantitative", "axis": null}}},
      {"data": {"values": [{}]}, "mark": {"type": "text", "text": "V", "align": "right", "baseline": "alphabetic", "fontSize": 19, "color": "#000"},
       "encoding": {"x": {"datum": 290.9, "type": "quantitative", "axis": null}, "y": {"datum": 2.072, "type": "quantitative", "axis": null}}},
      {"data": {"values": [{}]}, "mark": {"type": "text", "text": "PIVOT", "align": "right", "baseline": "alphabetic", "fontSize": 15, "color": "#000"},
       "encoding": {"x": {"datum": 310.8, "type": "quantitative", "axis": null}, "y": {"datum": 2.004, "type": "quantitative", "axis": null}}},
      {"data": {"values": [{}]}, "mark": {"type": "text", "text": "V", "align": "right", "baseline": "alphabetic", "fontSize": 19, "color": "#000"},
       "encoding": {"x": {"datum": 285.8, "type": "quantitative", "axis": null}, "y": {"datum": 1.856, "type": "quantitative", "axis": null}}},
      {"data": {"values": [{}]}, "mark": {"type": "text", "text": "Gondola", "align": "right", "baseline": "alphabetic", "fontSize": 15, "color": "#000"},
       "encoding": {"x": {"datum": 310.8, "type": "quantitative", "axis": null}, "y": {"datum": 1.784, "type": "quantitative", "axis": null}}},
      {"data": {"values": [{}]}, "mark": {"type": "rect", "fill": "transparent", "stroke": "#ff0000", "strokeWidth": 2.5},
       "encoding": {"x": {"datum": 109.8, "type": "quantitative", "axis": null}, "x2": {"datum": 275.3}, "y": {"datum": 1.972, "type": "quantitative", "axis": null}, "y2": {"datum": 0.635}}},
      {"data": {"values": [{}]}, "mark": {"type": "text", "text": "PIVOT", "align": "left", "baseline": "alphabetic", "fontSize": 36, "fontWeight": "bold", "color": "#ff0000"},
       "encoding": {"x": {"datum": 118.9, "type": "quantitative", "axis": null}, "y": {"datum": 1.434, "type": "quantitative", "axis": null}}},
      {"data": {"values": [{}]}, "mark": {"type": "text", "text": "回転速度", "align": "left", "baseline": "alphabetic", "font": "Noto Sans CJK JP", "fontSize": 37, "color": "#ff0000"},
       "encoding": {"x": {"datum": 173.5, "type": "quantitative", "axis": null}, "y": {"datum": 1.434, "type": "quantitative", "axis": null}}},
      {"data": {"values": [{}]}, "mark": {"type": "text", "text": "ゴンドラ回転速度", "align": "left", "baseline": "alphabetic", "font": "Noto Sans CJK JP", "fontSize": 37, "color": "#ff0000"},
       "encoding": {"x": {"datum": 120.3, "type": "quantitative", "axis": null}, "y": {"datum": 0.886, "type": "quantitative", "axis": null}}},
      {"data": {"values": [{}]}, "mark": {"type": "text", "text": "V", "angle": 270, "align": "left", "baseline": "alphabetic", "fontSize": 19, "dx": -113.75, "dy": -73, "color": "#000"},
       "encoding": {"x": {"datum": -20, "type": "quantitative", "axis": null}, "y": {"datum": 1, "type": "quantitative", "axis": null}}},
      {"data": {"values": [{}]}, "mark": {"type": "text", "text": "PIVOT", "angle": 270, "align": "left", "baseline": "alphabetic", "fontSize": 15, "dx": -101.1, "dy": -69.5, "color": "#000"},
       "encoding": {"x": {"datum": -20, "type": "quantitative", "axis": null}, "y": {"datum": 1, "type": "quantitative", "axis": null}}},
      {"data": {"values": [{}]}, "mark": {"type": "text", "text": ",", "angle": 270, "align": "left", "baseline": "alphabetic", "fontSize": 19, "dx": -56.1, "dy": -73, "color": "#000"},
       "encoding": {"x": {"datum": -20, "type": "quantitative", "axis": null}, "y": {"datum": 1, "type": "quantitative", "axis": null}}},
      {"data": {"values": [{}]}, "mark": {"type": "text", "text": "V", "angle": 270, "align": "left", "baseline": "alphabetic", "fontSize": 19, "dx": -45.5, "dy": -73, "color": "#000"},
       "encoding": {"x": {"datum": -20, "type": "quantitative", "axis": null}, "y": {"datum": 1, "type": "quantitative", "axis": null}}},
      {"data": {"values": [{}]}, "mark": {"type": "text", "text": "Gondola", "angle": 270, "align": "left", "baseline": "alphabetic", "fontSize": 15, "dx": -32.8, "dy": -69.5, "color": "#000"},
       "encoding": {"x": {"datum": -20, "type": "quantitative", "axis": null}, "y": {"datum": 1, "type": "quantitative", "axis": null}}},
      {"data": {"values": [{}]}, "mark": {"type": "text", "text": "(deg/sec)", "angle": 270, "align": "left", "baseline": "alphabetic", "fontSize": 19, "dx": 34.5, "dy": -73, "color": "#000"},
       "encoding": {"x": {"datum": -20, "type": "quantitative", "axis": null}, "y": {"datum": 1, "type": "quantitative", "axis": null}}},
      {"data": {"values": [{}]}, "mark": {"type": "text", "text": ".", "align": "left", "baseline": "middle", "fontSize": 8, "opacity": 0, "dx": -90.6},
       "encoding": {"x": {"datum": -20, "type": "quantitative", "axis": null}, "y": {"datum": 1, "type": "quantitative", "axis": null}}}
    ]
  }
  ]
}
]
}
